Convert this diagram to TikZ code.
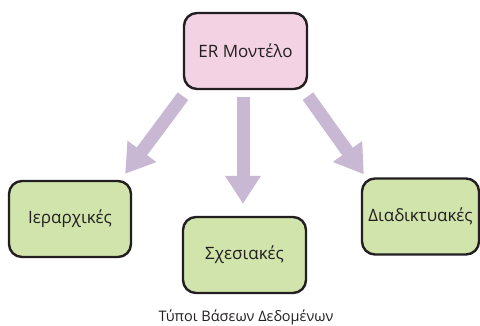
\documentclass[tikz,border=0pt]{standalone}
\usepackage{fontspec}
\setmainfont{Open Sans}
\usepackage{tikz}
\usetikzlibrary{positioning}
\usetikzlibrary{arrows.meta}
\definecolor{pinkbox}{HTML}{F3D2E3}
\definecolor{greenbox}{HTML}{D0E4AC}
\definecolor{arrcol}{HTML}{C9B8D3}
\definecolor{txtcol}{HTML}{231F20}
\tikzset{
  dbbox/.style={draw=txtcol, line width=2.4pt, rounded corners=13pt, minimum height=76pt, inner sep=2pt, text=txtcol, font=\fontsize{17}{20}\selectfont},
  bigarr/.style={draw=arrcol, line width=13pt, -{Triangle[width=34pt,length=28pt]}}
}
\begin{document}
\begin{tikzpicture}[x=1pt,y=1pt]
	\useasboundingbox (0,0) rectangle (480,326);
	\node[dbbox, fill=pinkbox, minimum width=123pt] (er) at (245.5,275) {ER Μοντέλο};
	\node[dbbox, fill=greenbox, minimum width=122pt] (hier) at (70,107) {Ιεραρχικές};
	\node[dbbox, fill=greenbox, minimum width=123pt] (rel) at (244.5,71) {Σχεσιακές};
	\node[dbbox, fill=greenbox, minimum width=117pt] (net) at (420.5,109.5) {Διαδικτυακές};
	
	\draw[bigarr] ([shift={(-62.5,-6)}]er.south) -- ([shift={(-7,6)}]hier.north east);
	\draw[bigarr] ([shift={(-2.5,-7)}]er.south) -- ([shift={(-1.5,12)}]rel.north);
	\draw[bigarr] ([shift={(62.5,-6)}]er.south) -- ([shift={(3,3)}]net.north west);
	
	\node[text=txtcol, font=\fontsize{14.5}{17}\selectfont] (caption) at (246,8.5) {Τύποι Βάσεων Δεδομένων};
\end{tikzpicture}
\end{document}
